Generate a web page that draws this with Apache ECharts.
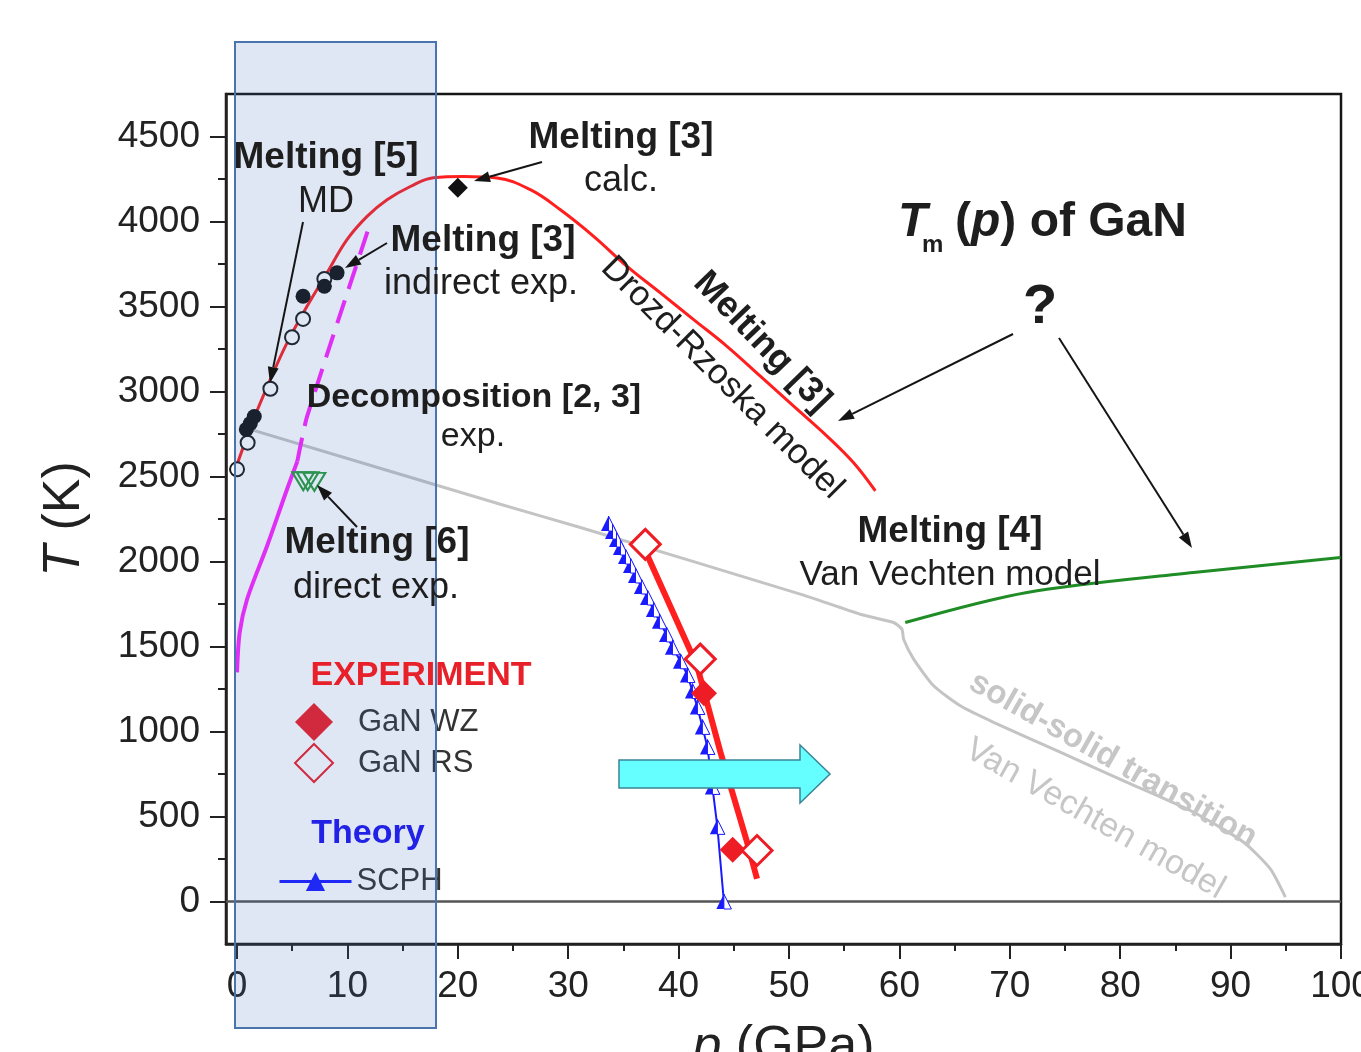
<!DOCTYPE html>
<html>
<head>
<meta charset="utf-8">
<script src="https://cdn.jsdelivr.net/npm/echarts@6/dist/echarts.min.js"></script>
<style>html,body{margin:0;padding:0;background:#fff}#c{width:1361px;height:1052px}</style>
</head>
<body>
<div id="c"></div>
<script>
// ---- tick values ----
const xMajorTicks = [0, 10, 20, 30, 40, 50, 60, 70, 80, 90, 100];
const xMinorTicks = [5, 15, 25, 35, 45, 55, 65, 75, 85, 95];
const yMajorTicks = [0, 500, 1000, 1500, 2000, 2500, 3000, 3500, 4000, 4500];
const yMinorTicks = [250, 750, 1250, 1750, 2250, 2750, 3250, 3750, 4250];

// ---- data (p in GPa, T in K) ----
const meltDrozd = [[-0.15,2542],[1.5,2836],[3.02,3071],[4.53,3286],[6.34,3501],[8.15,3697],[9.96,3893],[11.78,4030],[13.59,4128],[15.7,4206],[17.78,4258],[20.53,4265],[23.55,4256],[26.57,4187],[29.29,4069],[32.3,3913],[35.33,3736],[38.35,3580],[41.36,3423],[44.38,3266],[47.4,3090],[50.42,2914],[53.44,2738],[55.85,2581],[57.82,2415]];
const meltMD = [[0,2542],[0.96,2699],[3.02,3016],[4.98,3319],[5.98,3427],[7.91,3662]];
const meltIndirect = [[0.84,2777],[1.2,2812],[1.56,2853],[5.98,3560],[7.91,3619],[9.06,3698]];
const meltCalc = [[20,4198]];
const decompSolid = [[0,1348],[0.24,1583],[0.91,1778],[2.72,2091],[4.53,2425],[5.46,2589]];
const decompDashed = [[5.46,2589],[6.34,2852],[12.1,3995]];
const solidSolid = [[1.2,2777],[23.85,2337],[31.1,2200],[51.02,1808],[56.45,1690],[59.47,1641],[60.23,1602],[60.38,1543],[61.29,1426],[63.1,1269],[65.52,1151],[68.53,1054],[74.57,878],[80.62,701],[86.65,525],[91.18,349],[93.6,192],[94.96,26]];
const meltVanVechten = [[60.53,1641],[71.56,1818],[86.65,1935],[99.96,2023]];
const meltDirect = [[6.0,2472],[6.4,2472],[7.0,2468]];
const scph = [[33.65,2223],[34.01,2176],[34.37,2129],[34.73,2082],[35.19,2029],[35.64,1976],[36.09,1918],[36.63,1853],[37.18,1788],[37.72,1718],[38.26,1648],[38.9,1571],[39.44,1495],[40.17,1413],[40.8,1332],[41.25,1238],[41.7,1144],[42.15,1027],[42.61,909],[43.06,674],[43.51,439],[44.1,0]];
const expLine = [[37.0,2060],[41.67,1387],[43.78,880],[46.2,349],[47.1,134]];
const ganWZ = [[42.3,1225],[44.9,305]];
const ganRS = [[36.98,2101],[41.96,1426],[47.1,300]];

const FONT = '"Liberation Sans", Arial, Helvetica, sans-serif';
const DARK = '#1e1e1e';

function txt(x, y, text, size, o) {
  o = o || {};
  return {
    type: 'text', x: x, y: y, rotation: o.rot ? o.rot * Math.PI / 180 : 0, z: 120, silent: true,
    style: {
      text: text, fill: o.color || DARK,
      font: (o.italic ? 'italic ' : '') + (o.bold ? 'bold ' : '') + size + 'px ' + FONT,
      align: o.align || 'center', verticalAlign: 'middle',
      textAlign: o.align || 'center', textVerticalAlign: 'middle'
    }
  };
}
function arrow(x1, y1, x2, y2) {
  const a = Math.atan2(y2 - y1, x2 - x1);
  const L = 16, W = 5.5;
  const bx = x2 - L * Math.cos(a), by = y2 - L * Math.sin(a);
  return [
    { type: 'line', z: 118, silent: true, shape: { x1: x1, y1: y1, x2: bx, y2: by }, style: { stroke: '#151515', lineWidth: 2 } },
    { type: 'polygon', z: 118, silent: true, shape: { points: [[x2, y2], [bx + W * Math.sin(a), by - W * Math.cos(a)], [bx - W * Math.sin(a), by + W * Math.cos(a)]] }, style: { fill: '#151515' } }
  ];
}

const graphics = [
  // highlighted region overlay
  { type: 'rect', z: 100, silent: true, shape: { x: 235, y: 42, width: 201, height: 986 },
    style: { fill: 'rgba(68,114,196,0.17)', stroke: '#4a74ad', lineWidth: 2 } },
  // cyan block arrow
  { type: 'polygon', z: 110, silent: true,
    shape: { points: [[619,760],[800,760],[800,745],[830,774],[800,803],[800,788],[619,788]] },
    style: { fill: '#66ffff', stroke: '#3a8596', lineWidth: 1.5 } },
  txt(326, 158, 'Melting [5]', 37, { bold: true }),
  txt(326, 202, 'MD', 36),
  txt(621, 138, 'Melting [3]', 37, { bold: true }),
  txt(621, 181, 'calc.', 36),
  txt(483, 241, 'Melting [3]', 37, { bold: true }),
  txt(481, 284, 'indirect exp.', 36),
  txt(474, 398, 'Decomposition [2, 3]', 34, { bold: true }),
  txt(473, 437, 'exp.', 34),
  txt(377, 543, 'Melting [6]', 37, { bold: true }),
  txt(376, 588, 'direct exp.', 36),
  txt(950, 532, 'Melting [4]', 37, { bold: true }),
  txt(950, 575, 'Van Vechten model', 35),
  txt(762, 342, 'Melting [3]', 36, { bold: true, rot: -46 }),
  txt(722, 378, 'Drozd-Rzoska model', 35, { rot: -45 }),
  txt(1113, 760, 'solid-solid transition', 33, { bold: true, rot: -29.5, color: '#c6c6c6' }),
  txt(1095, 819, 'Van Vechten model', 34, { rot: -29.5, color: '#c6c6c6' }),
  txt(421, 676, 'EXPERIMENT', 34, { bold: true, color: '#e8202a' }),
  txt(368, 834, 'Theory', 34, { bold: true, color: '#2222e6' }),
  txt(1040, 308, '?', 56, { bold: true }),
  txt(898, 223, 'T', 48, { bold: true, italic: true, align: 'left' }),
  txt(922, 245, 'm', 24, { bold: true, align: 'left' }),
  { type: 'text', x: 955, y: 223, z: 120, silent: true,
    style: {
      text: '{n|(}{it|p}{n|) of GaN}', align: 'left', verticalAlign: 'middle',
      textAlign: 'left', textVerticalAlign: 'middle',
      rich: {
        it: { fontFamily: FONT, fontSize: 48, fontWeight: 'bold', fontStyle: 'italic', fill: DARK, color: DARK },
        n: { fontFamily: FONT, fontSize: 48, fontWeight: 'bold', fill: DARK, color: DARK }
      }
    } }
].concat(
  arrow(303, 222, 270, 383),
  arrow(542, 162, 474, 181),
  arrow(387, 243, 345, 268),
  arrow(357, 527, 317, 485),
  arrow(1013, 334, 838, 421),
  arrow(1059, 338, 1192, 548)
);

const axisFont = { fontFamily: FONT, fontSize: 37, color: '#222' };
const plain = function (v) { return String(v); };

const option = {
  animation: false,
  backgroundColor: '#fff',
  grid: { left: 226, right: 20, top: 94, bottom: 108, containLabel: false, outerBoundsMode: 'none',
    show: true, borderColor: '#151515', borderWidth: 2.5, backgroundColor: 'transparent' },
  legend: [
    { data: ['GaN WZ', 'GaN RS'], orient: 'vertical', left: 289, top: 698, itemWidth: 38, itemHeight: 38, itemGap: 2,
      selectedMode: false, textStyle: { fontFamily: FONT, fontSize: 31, color: '#333', padding: [0, 0, 0, 20] } },
    { data: ['SCPH'], left: 273, top: 861, itemWidth: 72, itemHeight: 24,
      lineStyle: { width: 3 },
      selectedMode: false, textStyle: { fontFamily: FONT, fontSize: 31, color: '#333' } }
  ],
  xAxis: [
    { type: 'value', min: -1, max: 100, position: 'bottom',
      name: '{it|p} (GPa)', nameLocation: 'middle', nameGap: 78,
      nameTextStyle: { fontFamily: FONT, fontSize: 52, color: '#222', rich: { it: { fontFamily: FONT, fontSize: 52, fontStyle: 'italic', color: '#222' } } },
      axisLine: { show: true, onZero: false, lineStyle: { color: '#222', width: 2.5 } },
      axisTick: { show: true, inside: false, length: 15, customValues: xMajorTicks, lineStyle: { color: '#222', width: 2 } },
      axisLabel: { show: true, customValues: xMajorTicks, margin: 24, formatter: plain, ...axisFont },
      splitLine: { show: false } },
    { type: 'value', min: -1, max: 100, position: 'bottom',
      axisLine: { show: false, onZero: false },
      axisTick: { show: true, inside: false, length: 7, customValues: xMinorTicks, lineStyle: { color: '#222', width: 2 } },
      axisLabel: { show: false }, splitLine: { show: false } }
  ],
  yAxis: [
    { type: 'value', min: -250, max: 4750, position: 'left',
      name: '{it|T} (K)', nameLocation: 'middle', nameGap: 135, nameRotate: 90,
      nameTextStyle: { fontFamily: FONT, fontSize: 52, color: '#222', rich: { it: { fontFamily: FONT, fontSize: 52, fontStyle: 'italic', color: '#222' } } },
      axisLine: { show: true, onZero: false, lineStyle: { color: '#222', width: 2.5 } },
      axisTick: { show: true, inside: false, length: 16, customValues: yMajorTicks, lineStyle: { color: '#222', width: 2 } },
      axisLabel: { show: true, customValues: yMajorTicks, margin: 26, formatter: plain, ...axisFont },
      splitLine: { show: false } },
    { type: 'value', min: -250, max: 4750, position: 'left',
      axisLine: { show: false, onZero: false },
      axisTick: { show: true, inside: false, length: 8, customValues: yMinorTicks, lineStyle: { color: '#222', width: 2 } },
      axisLabel: { show: false }, splitLine: { show: false } }
  ],
  graphic: { elements: graphics },
  series: [
    { name: 'solid-solid', type: 'line', data: solidSolid, smooth: 0.2, symbol: 'none',
      lineStyle: { color: '#c4c4c4', width: 3 }, z: 2,
      markLine: { silent: true, symbol: 'none', label: { show: false }, lineStyle: { color: '#555', width: 2.5, type: 'solid' }, data: [{ yAxis: 0 }] } },
    { name: 'VanVechten', type: 'line', data: meltVanVechten, smooth: 0.3, symbol: 'none',
      lineStyle: { color: '#1f8c25', width: 3 }, z: 2 },
    { name: 'decompSolid', type: 'line', data: decompSolid, smooth: 0.3, symbol: 'none',
      lineStyle: { color: '#ff22ff', width: 4 }, z: 3 },
    { name: 'decompDashed', type: 'line', data: decompDashed, smooth: 0.2, symbol: 'none',
      lineStyle: { color: '#ff22ff', width: 4, type: [24, 12] }, z: 3 },
    { name: 'Drozd', type: 'line', data: meltDrozd, smooth: 0.4, symbol: 'none',
      lineStyle: { color: '#ff1f1f', width: 3 }, z: 4 },
    { name: 'MD', type: 'scatter', data: meltMD, symbol: 'circle', symbolSize: 14,
      itemStyle: { color: '#ffffff', borderColor: '#1a1a1a', borderWidth: 2, opacity: 1 }, z: 5 },
    { name: 'indirect', type: 'scatter', data: meltIndirect, symbol: 'circle', symbolSize: 15,
      itemStyle: { color: '#111111', opacity: 1 }, z: 6 },
    { name: 'calc', type: 'scatter', data: meltCalc, symbol: 'diamond', symbolSize: 20,
      itemStyle: { color: '#111111', opacity: 1 }, z: 6 },
    { name: 'direct', type: 'scatter', data: meltDirect, symbol: 'triangle', symbolRotate: 180, symbolSize: [22, 18],
      itemStyle: { color: 'rgba(255,255,255,0)', borderColor: '#2a9a3a', borderWidth: 2, opacity: 1 }, z: 6 },
    { name: 'SCPH', type: 'line', data: scph, symbol: 'triangle', symbolSize: 15, showAllSymbol: true,
      lineStyle: { color: '#1a1aff', width: 2 }, itemStyle: { color: '#1a1aff' }, z: 7 },
    { name: 'SCPHhalf', type: 'scatter', data: scph, symbol: 'path://M0,10L0,10M5,0L10,10L5,10Z', symbolSize: 15,
      itemStyle: { color: '#ffffff', borderColor: '#1a1aff', borderWidth: 1, opacity: 1 }, z: 7 },
    { name: 'expLine', type: 'line', data: expLine, symbol: 'none',
      lineStyle: { color: '#ff1f1f', width: 6 }, z: 8 },
    { name: 'GaN WZ', type: 'scatter', data: ganWZ, symbol: 'diamond', symbolSize: 26,
      itemStyle: { color: '#ee1c24', opacity: 1 }, z: 9 },
    { name: 'GaN RS', type: 'scatter', data: ganRS, symbol: 'diamond', symbolSize: 30,
      itemStyle: { color: '#ffffff', borderColor: '#ee1c24', borderWidth: 3, opacity: 1 }, z: 9 }
  ]
};

const chart = echarts.init(document.getElementById('c'));
chart.setOption(option);
</script>
</body>
</html>
